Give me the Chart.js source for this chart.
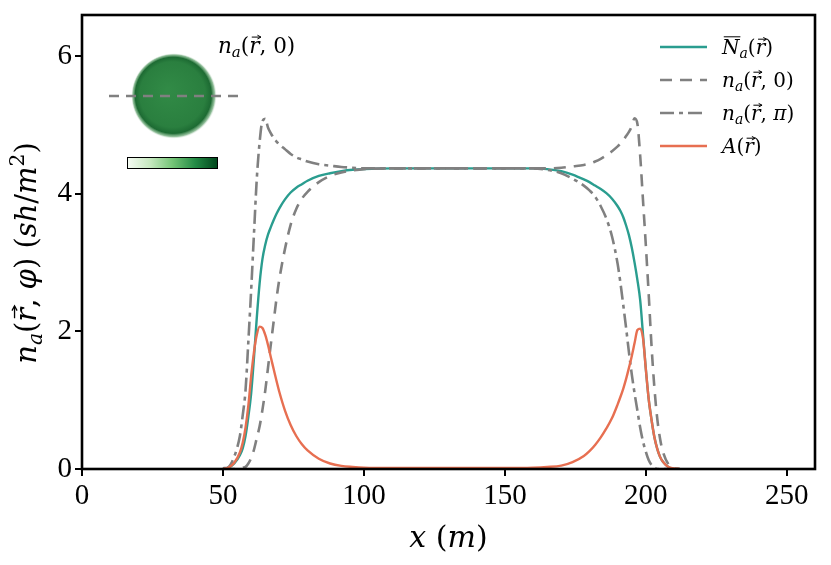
<!DOCTYPE html>
<html>
<head>
<meta charset="utf-8">
<script src="https://cdn.jsdelivr.net/npm/chart.js@4.4.1/dist/chart.umd.min.js"></script>
<style>
  html, body { margin: 0; padding: 0; background: #fff; }
  canvas { display: block; }
</style>
</head>
<body>
<canvas id="chart" width="831" height="565"></canvas>
<script>
// x positions (m) shared by all four profiles
const xPos = [50, 52, 54, 56, 57, 58, 59, 60, 61, 62,
  63, 64, 65, 66, 67, 68, 69, 70, 72, 74,
  76, 78, 80, 84, 88, 92, 96, 100, 110, 120,
  130, 140, 150, 160, 165, 170, 174, 178, 180, 182,
  184, 186, 188, 190, 191, 192, 193, 194, 195, 196,
  197, 198, 199, 200, 201, 202, 203, 204, 205, 206,
  208, 210, 212];

// mean density  N_a(r)
const meanN = [0, 0.02, 0.08, 0.2, 0.3, 0.48, 0.76, 1.1, 1.62, 2.2,
  2.7, 3.05, 3.26, 3.41, 3.52, 3.62, 3.71, 3.79, 3.92, 4.02,
  4.09, 4.14, 4.19, 4.26, 4.3, 4.33, 4.35, 4.36, 4.37, 4.37,
  4.37, 4.37, 4.37, 4.37, 4.36, 4.33, 4.28, 4.21, 4.17, 4.12,
  4.07, 4.01, 3.93, 3.82, 3.75, 3.66, 3.54, 3.4, 3.22, 3.0,
  2.75, 2.45, 1.95, 1.45, 1.02, 0.72, 0.47, 0.3, 0.18, 0.11,
  0.03, 0, 0];

// n_a(r, 0)
const nZero = [0, 0, 0, 0.01, 0.02, 0.03, 0.08, 0.16, 0.28, 0.45,
  0.62, 0.86, 1.14, 1.48, 1.82, 2.15, 2.48, 2.76, 3.2, 3.55,
  3.78, 3.93, 4.03, 4.17, 4.26, 4.31, 4.34, 4.36, 4.37, 4.37,
  4.37, 4.37, 4.37, 4.37, 4.37, 4.38, 4.4, 4.42, 4.44, 4.47,
  4.51, 4.56, 4.62, 4.69, 4.73, 4.78, 4.84, 4.9, 4.98, 5.1,
  5.02, 4.55, 3.9, 3.25, 2.55, 1.8, 1.2, 0.75, 0.45, 0.26,
  0.07, 0.01, 0];

// n_a(r, pi)
const nPi = [0.01, 0.03, 0.18, 0.48, 0.78, 1.14, 1.85, 2.6, 3.42, 4.22,
  4.75, 5.06, 5.09, 4.96, 4.88, 4.81, 4.76, 4.72, 4.65, 4.58,
  4.53, 4.5, 4.47, 4.43, 4.41, 4.39, 4.38, 4.37, 4.37, 4.37,
  4.37, 4.37, 4.37, 4.37, 4.35, 4.3, 4.22, 4.12, 4.05, 3.96,
  3.82, 3.64, 3.38, 2.98, 2.7, 2.38, 2.05, 1.7, 1.38, 1.1,
  0.85, 0.6, 0.4, 0.25, 0.13, 0.06, 0.02, 0, 0, 0,
  0, 0, 0];

// amplitude A(r)
const amp = [0, 0.02, 0.09, 0.24, 0.38, 0.6, 0.92, 1.35, 1.7, 1.95,
  2.07, 2.05, 1.95, 1.8, 1.62, 1.45, 1.28, 1.12, 0.85, 0.64,
  0.48, 0.36, 0.27, 0.15, 0.08, 0.045, 0.03, 0.02, 0.015, 0.015,
  0.015, 0.015, 0.015, 0.02, 0.03, 0.05, 0.1, 0.19, 0.26, 0.35,
  0.46, 0.59, 0.74, 0.94, 1.05, 1.17, 1.31, 1.47, 1.64, 1.83,
  2.02, 2.04, 1.9, 1.45, 1.02, 0.72, 0.47, 0.3, 0.18, 0.11,
  0.03, 0.01, 0];

const xTicks = [0, 50, 100, 150, 200, 250];
const yTicks = [0, 2, 4, 6];

const TEAL = "#2a9d8f";
const ORANGE = "#e76f51";
const GREY = "#808080";
const DASH = [12, 8];
const DASHDOT = [14, 5, 4, 5];
const SERIF = '"Liberation Serif", serif';
const MATH = '"DejaVu Serif", "Liberation Serif", serif';

const pts = (ys) => xPos.map((x, i) => ({ x, y: ys[i] }));

// draws a small piece of math: runs of text with italic / sub / sup / vector arrow / overbar
function drawMath(ctx, runs, x, y, size, align) {
  const parts = runs.map((r) => {
    const fs = r.sub || r.sup ? size * 0.7 : size;
    const font = (r.it ? "italic " : "") + fs + "px " + MATH;
    ctx.font = font;
    return { r, font, fs, w: ctx.measureText(r.t).width };
  });
  const total = parts.reduce((a, p) => a + p.w, 0);
  let cx = align === "center" ? x - total / 2 : x;
  ctx.textBaseline = "alphabetic";
  ctx.textAlign = "left";
  parts.forEach((p) => {
    ctx.font = p.font;
    const dy = p.r.sub ? size * 0.2 : p.r.sup ? -size * 0.4 : 0;
    ctx.fillText(p.r.t, cx, y + dy);
    ctx.lineWidth = Math.max(1, size * 0.045);
    if (p.r.vec) {
      const ay = y - size * 0.74;
      const x0 = cx + p.w * 0.25, x1 = cx + p.w * 1.1;
      const h = size * 0.11;
      ctx.beginPath();
      ctx.moveTo(x0, ay);
      ctx.lineTo(x1, ay);
      ctx.stroke();
      ctx.beginPath();
      ctx.moveTo(x1 - h * 1.3, ay - h * 0.8);
      ctx.lineTo(x1 + 0.5, ay);
      ctx.lineTo(x1 - h * 1.3, ay + h * 0.8);
      ctx.stroke();
    }
    if (p.r.bar) {
      const by = y - size * 0.86;
      ctx.beginPath();
      ctx.moveTo(cx + p.w * 0.1, by);
      ctx.lineTo(cx + p.w * 1.05, by);
      ctx.stroke();
    }
    cx += p.w;
  });
  return total;
}

const legendItems = [
  { color: TEAL, dash: [], width: 2.4,
    runs: [{ t: "N", it: 1, bar: 1 }, { t: "a", it: 1, sub: 1 }, { t: "(" }, { t: "r", it: 1, vec: 1 }, { t: ")" }] },
  { color: GREY, dash: DASH, width: 2.6,
    runs: [{ t: "n", it: 1 }, { t: "a", it: 1, sub: 1 }, { t: "(" }, { t: "r", it: 1, vec: 1 }, { t: ", 0)" }] },
  { color: GREY, dash: DASHDOT, width: 2.6,
    runs: [{ t: "n", it: 1 }, { t: "a", it: 1, sub: 1 }, { t: "(" }, { t: "r", it: 1, vec: 1 }, { t: ", " }, { t: "π", it: 1 }, { t: ")" }] },
  { color: ORANGE, dash: [], width: 2.4,
    runs: [{ t: "A", it: 1 }, { t: "(" }, { t: "r", it: 1, vec: 1 }, { t: ")" }] },
];

const decorPlugin = {
  id: "decor",
  afterDatasetsDraw(chart) {
    const { ctx, chartArea: a } = chart;
    ctx.save();

    // frame
    ctx.strokeStyle = "#000";
    ctx.lineWidth = 2.6;
    ctx.setLineDash([]);
    ctx.strokeRect(a.left, a.top, a.right - a.left, a.bottom - a.top);

    // legend
    legendItems.forEach((it, i) => {
      const y = a.top + 32 + i * 33;
      ctx.strokeStyle = it.color;
      ctx.lineWidth = it.width;
      ctx.setLineDash(it.dash);
      ctx.beginPath();
      ctx.moveTo(a.right - 155, y);
      ctx.lineTo(a.right - 108, y);
      ctx.stroke();
      ctx.setLineDash([]);
      ctx.fillStyle = "#000";
      ctx.strokeStyle = "#000";
      drawMath(ctx, it.runs, a.right - 93, y + 7, 20, "left");
    });

    // inset: density snapshot
    const cx = a.left + 92, cy = a.top + 81, r = 43;
    const g = ctx.createRadialGradient(cx - 6, cy - 6, 2, cx, cy, r);
    g.addColorStop(0, "#318a46");
    g.addColorStop(0.75, "#2a7f3f");
    g.addColorStop(0.88, "#1d6b33");
    g.addColorStop(0.95, "rgba(60,140,75,0.55)");
    g.addColorStop(1, "rgba(255,255,255,0)");
    ctx.fillStyle = g;
    ctx.beginPath();
    ctx.arc(cx, cy, r, 0, Math.PI * 2);
    ctx.fill();

    ctx.strokeStyle = GREY;
    ctx.lineWidth = 2.6;
    ctx.setLineDash([10, 7]);
    ctx.beginPath();
    ctx.moveTo(a.left + 27, cy);
    ctx.lineTo(a.left + 156, cy);
    ctx.stroke();
    ctx.setLineDash([]);

    const bx = a.left + 45, by = a.top + 142, bw = 91, bh = 12;
    const cb = ctx.createLinearGradient(bx, 0, bx + bw, 0);
    cb.addColorStop(0, "#f7fcf5");
    cb.addColorStop(0.25, "#c7e9c0");
    cb.addColorStop(0.5, "#74c476");
    cb.addColorStop(0.75, "#238b45");
    cb.addColorStop(1, "#00441b");
    ctx.fillStyle = cb;
    ctx.fillRect(bx, by, bw, bh);
    ctx.strokeStyle = "#000";
    ctx.lineWidth = 1;
    ctx.strokeRect(bx + 0.5, by + 0.5, bw - 1, bh - 1);

    ctx.fillStyle = "#000";
    ctx.strokeStyle = "#000";
    drawMath(ctx, [{ t: "n", it: 1 }, { t: "a", it: 1, sub: 1 }, { t: "(" }, { t: "r", it: 1, vec: 1 }, { t: ", 0)" }],
      a.left + 136, a.top + 38, 21.5, "left");

    // axis titles
    drawMath(ctx, [{ t: "x", it: 1 }, { t: " (" }, { t: "m", it: 1 }, { t: ")" }],
      (a.left + a.right) / 2, a.bottom + 78, 30, "center");

    ctx.translate(a.left - 46, 253);
    ctx.rotate(-Math.PI / 2);
    drawMath(ctx, [{ t: "n", it: 1 }, { t: "a", it: 1, sub: 1 }, { t: "(" }, { t: "r", it: 1, vec: 1 }, { t: ", " },
      { t: "φ", it: 1 }, { t: ") (" }, { t: "sh", it: 1 }, { t: "/" }, { t: "m", it: 1 }, { t: "2", sup: 1 }, { t: ")" }],
      0, 0, 29, "center");

    ctx.restore();
  },
};

const tickFont = { family: SERIF, size: 29 };

new Chart(document.getElementById("chart"), {
  type: "line",
  data: {
    datasets: [
      { label: "A", data: pts(amp), borderColor: ORANGE, borderWidth: 2.4 },
      { label: "n_pi", data: pts(nPi), borderColor: GREY, borderWidth: 2.6, borderDash: DASHDOT },
      { label: "n_0", data: pts(nZero), borderColor: GREY, borderWidth: 2.6, borderDash: DASH },
      { label: "N", data: pts(meanN), borderColor: TEAL, borderWidth: 2.4 },
    ],
  },
  options: {
    responsive: false,
    animation: false,
    layout: { padding: { left: 0, right: 16, top: 15, bottom: 0 } },
    elements: {
      point: { radius: 0, hoverRadius: 0 },
      line: { cubicInterpolationMode: "monotone", fill: false },
    },
    plugins: { legend: { display: false }, tooltip: { enabled: false } },
    scales: {
      x: {
        type: "linear",
        min: 0,
        max: 260,
        afterBuildTicks: (s) => { s.ticks = xTicks.map((v) => ({ value: v })); },
        afterFit: (s) => { s.height = 96; s.paddingLeft = 0; s.paddingRight = 0; },
        ticks: { font: tickFont, color: "#000", padding: 3, maxRotation: 0 },
        grid: { drawOnChartArea: false, color: "#000", lineWidth: 2, tickLength: 7 },
        border: { display: false },
      },
      y: {
        min: 0,
        max: 6.6,
        afterBuildTicks: (s) => { s.ticks = yTicks.map((v) => ({ value: v })); },
        afterFit: (s) => { s.width = 82; s.paddingTop = 0; s.paddingBottom = 0; },
        ticks: { font: tickFont, color: "#000", padding: 3 },
        grid: { drawOnChartArea: false, color: "#000", lineWidth: 2, tickLength: 7 },
        border: { display: false },
      },
    },
  },
  plugins: [decorPlugin],
});
</script>
</body>
</html>
